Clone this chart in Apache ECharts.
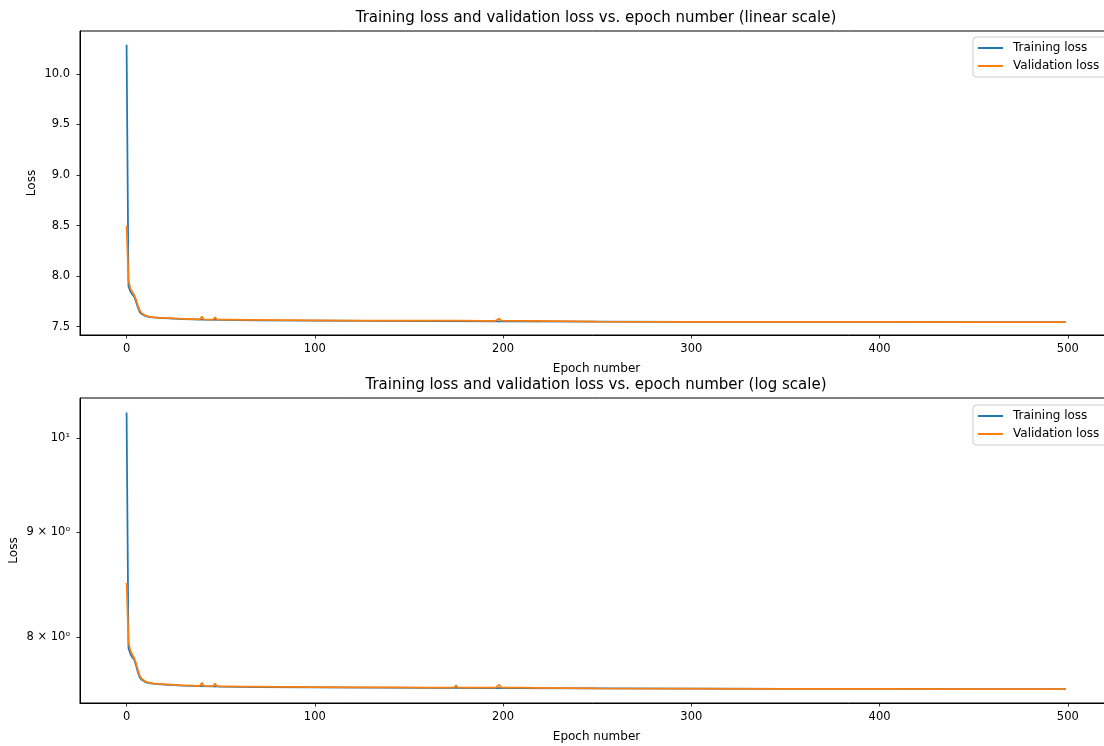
<!DOCTYPE html>
<html>
<head>
<meta charset="utf-8">
<script src="https://cdn.jsdelivr.net/npm/echarts@6/dist/echarts.min.js"></script>
<style>
  html, body { margin: 0; padding: 0; background: #fff; }
  #chart { width: 1104px; height: 746px; }
</style>
</head>
<body>
<div id="chart"></div>
<script>
// values
const trainEpochs = [0, 1, 2, 3, 4, 5, 6, 7, 8, 9, 10, 12, 14, 17, 20, 25, 30, 40, 50, 70, 100, 130, 160, 200, 250, 300, 350, 400, 450, 499]
const trainLoss = [10.29, 7.9, 7.85, 7.82, 7.8, 7.75, 7.69, 7.645, 7.625, 7.613, 7.605, 7.597, 7.592, 7.588, 7.584, 7.579, 7.575, 7.57, 7.567, 7.563, 7.56, 7.558, 7.556, 7.554, 7.551, 7.549, 7.548, 7.547, 7.546, 7.545]

const valEpochs = [0, 1, 2, 3, 4, 5, 6, 7, 8, 9, 10, 12, 14, 17, 20, 25, 28, 29, 30, 39, 40, 41, 46, 47, 48, 52, 53, 54, 63, 64, 65, 85, 86, 87, 100, 125, 126, 127, 140, 141, 142, 160, 169, 170, 171, 174, 175, 176, 190, 191, 192, 194, 195, 196, 197, 198, 199, 210, 217, 218, 250, 300, 350, 400, 450, 499]
const valLoss = [8.5, 7.96, 7.88, 7.845, 7.815, 7.77, 7.71, 7.66, 7.635, 7.62, 7.61, 7.6, 7.595, 7.59, 7.587, 7.582, 7.579, 7.59, 7.578, 7.573, 7.6, 7.573, 7.571, 7.593, 7.57, 7.569, 7.578, 7.569, 7.567, 7.578, 7.567, 7.564, 7.571, 7.564, 7.563, 7.561, 7.568, 7.561, 7.56, 7.566, 7.56, 7.559, 7.559, 7.565, 7.559, 7.559, 7.578, 7.559, 7.558, 7.566, 7.558, 7.558, 7.566, 7.558, 7.558, 7.582, 7.559, 7.558, 7.557, 7.553, 7.551, 7.549, 7.548, 7.547, 7.546, 7.545]

const xTicks = [0, 100, 200, 300, 400, 500]
const linTicks = [7.5, 8.0, 8.5, 9.0, 9.5, 10.0]
const logTicks = [8, 9, 10]
const logTickLabels = { 8: '8 × 10⁰', 9: '9 × 10⁰', 10: '10¹' }

const font = 'DejaVu Sans'
const ink = '#000'
const blue = '#1f77b4'
const orange = '#ff7f0e'
const tickSize = 11.5
const labelSize = 12

const pairs = (xs, ys) => xs.map((x, i) => [x, ys[i]])

const xAxisFor = gridIndex => ({
  type: 'value',
  gridIndex,
  min: -24.75,
  max: 524,
  name: 'Epoch number',
  nameLocation: 'middle',
  nameGap: 28,
  nameTextStyle: { fontFamily: font, fontSize: labelSize, color: ink },
  splitLine: { show: false },
  axisLine: { show: true, onZero: false, lineStyle: { color: ink, width: 1 } },
  axisTick: { show: true, length: 3.5, customValues: xTicks, lineStyle: { color: ink, width: 0.8 } },
  axisLabel: { customValues: xTicks, margin: 8, fontFamily: font, fontSize: tickSize, color: ink }
})

const yCommon = {
  name: 'Loss',
  nameLocation: 'middle',
  nameMoveOverlap: false,
  nameTextStyle: { fontFamily: font, fontSize: labelSize, color: ink },
  splitLine: { show: false },
  axisLine: { show: true, onZero: false, lineStyle: { color: ink, width: 1 } }
}

const lineSeries = (name, xs, ys, color, idx) => ({
  name,
  type: 'line',
  xAxisIndex: idx,
  yAxisIndex: idx,
  data: pairs(xs, ys),
  showSymbol: false,
  lineStyle: { color, width: 1.75 },
  itemStyle: { color },
  z: name === 'Training loss' ? 2 : 3
})

const legendFor = top => ({
  left: 973,
  top,
  orient: 'vertical',
  icon: 'rect',
  itemWidth: 25,
  itemHeight: 2,
  itemGap: 6,
  padding: [5, 8, 5, 5],
  backgroundColor: 'rgba(255,255,255,0.8)',
  borderColor: '#ccc',
  borderWidth: 1,
  borderRadius: 3,
  textStyle: { fontFamily: font, fontSize: labelSize, color: ink, padding: [0, 0, 0, 5] },
  data: ['Training loss', 'Validation loss']
})

// the axes run past the right edge of the picture, so no auto fitting
const gridFor = (top, height) => ({
  left: 80, top, width: 1033, height,
  outerBoundsMode: 'none',
  containLabel: false,
  show: true, borderColor: ink, borderWidth: 1, backgroundColor: 'transparent'
})

const chart = echarts.init(document.getElementById('chart'))

chart.setOption({
  animation: false,
  backgroundColor: '#fff',
  title: [
    {
      text: 'Training loss and validation loss vs. epoch number (linear scale)',
      left: 596, top: 11, textAlign: 'center', padding: 0,
      textStyle: { fontFamily: font, fontSize: 15, fontWeight: 'normal', color: ink }
    },
    {
      text: 'Training loss and validation loss vs. epoch number (log scale)',
      left: 596, top: 378, textAlign: 'center', padding: 0,
      textStyle: { fontFamily: font, fontSize: 15, fontWeight: 'normal', color: ink }
    }
  ],
  legend: [legendFor(37), legendFor(405)],
  grid: [gridFor(31, 304), gridFor(398, 305)],
  xAxis: [xAxisFor(0), xAxisFor(1)],
  yAxis: [
    {
      ...yCommon,
      type: 'value',
      gridIndex: 0,
      min: 7.418,
      max: 10.425,
      nameGap: 42,
      axisTick: { show: true, length: 3.5, customValues: linTicks, lineStyle: { color: ink, width: 0.8 } },
      axisLabel: {
        customValues: linTicks, margin: 10, fontFamily: font, fontSize: tickSize, color: ink,
        formatter: v => v.toFixed(1)
      }
    },
    {
      ...yCommon,
      type: 'log',
      logBase: 10,
      gridIndex: 1,
      min: 7.4289,
      max: 10.459,
      nameGap: 60,
      axisTick: { show: true, length: 3.5, customValues: logTicks, lineStyle: { color: ink, width: 0.8 } },
      axisLabel: {
        customValues: logTicks, margin: 10, fontFamily: font, fontSize: tickSize, color: ink,
        formatter: v => logTickLabels[Math.round(v)] || ''
      }
    }
  ],
  series: [
    lineSeries('Training loss', trainEpochs, trainLoss, blue, 0),
    lineSeries('Validation loss', valEpochs, valLoss, orange, 0),
    lineSeries('Training loss', trainEpochs, trainLoss, blue, 1),
    lineSeries('Validation loss', valEpochs, valLoss, orange, 1)
  ]
})
</script>
</body>
</html>
